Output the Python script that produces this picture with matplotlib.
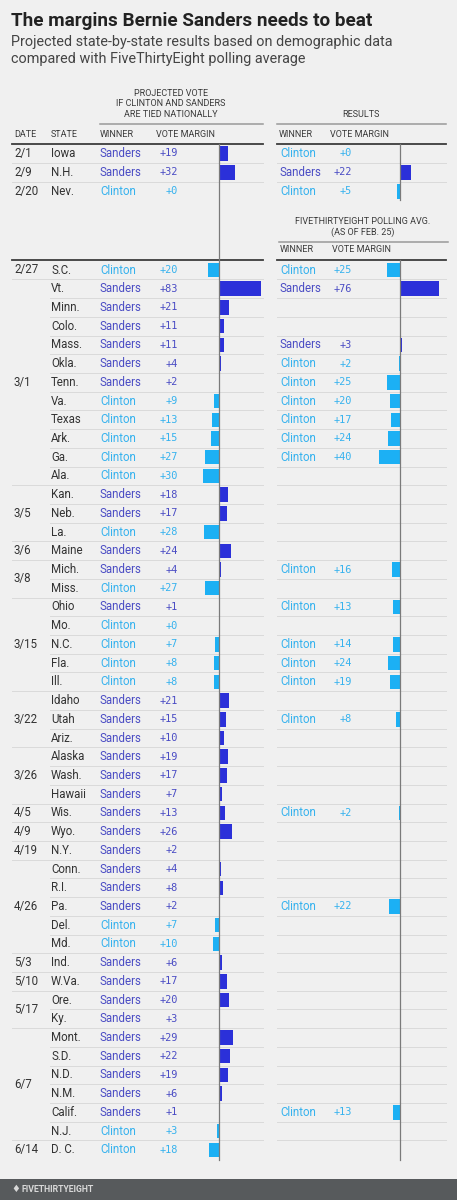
import matplotlib.pyplot as plt

# data
date_labels = ['2/1', '2/9', '2/20', '2/27', '3/1', '3/5', '3/6', '3/8', '3/15', '3/22',
               '3/26', '4/5', '4/9', '4/19', '4/26', '5/3', '5/10', '5/17', '6/7', '6/14']
group_sizes = [1, 1, 1, 1, 11, 3, 1, 2, 5, 3, 3, 1, 1, 1, 5, 1, 1, 2, 6, 1]

states = ['Iowa', 'N.H.', 'Nev.', 'S.C.', 'Vt.', 'Minn.', 'Colo.', 'Mass.', 'Okla.', 'Tenn.',
          'Va.', 'Texas', 'Ark.', 'Ga.', 'Ala.', 'Kan.', 'Neb.', 'La.', 'Maine', 'Mich.',
          'Miss.', 'Ohio', 'Mo.', 'N.C.', 'Fla.', 'Ill.', 'Idaho', 'Utah', 'Ariz.', 'Alaska',
          'Wash.', 'Hawaii', 'Wis.', 'Wyo.', 'N.Y.', 'Conn.', 'R.I.', 'Pa.', 'Del.', 'Md.',
          'Ind.', 'W.Va.', 'Ore.', 'Ky.', 'Mont.', 'S.D.', 'N.D.', 'N.M.', 'Calif.', 'N.J.', 'D. C.']

S, C = 'Sanders', 'Clinton'
proj_winner = [S, S, C, C, S, S, S, S, S, S,
               C, C, C, C, C, S, S, C, S, S,
               C, S, C, C, C, C, S, S, S, S,
               S, S, S, S, S, S, S, S, C, C,
               S, S, S, S, S, S, S, S, S, C, C]
proj_margin = [19, 32, 0, 20, 83, 21, 11, 11, 4, 2,
               9, 13, 15, 27, 30, 18, 17, 28, 24, 4,
               27, 1, 0, 7, 8, 8, 21, 15, 10, 19,
               17, 7, 13, 26, 2, 4, 8, 2, 7, 10,
               6, 17, 20, 3, 29, 22, 19, 6, 1, 3, 18]

# results (first 3 rows) and 538 polling avg (rest); None = no data
right_winner = [C, S, C, C, S, None, None, S, C, C,
                C, C, C, C, None, None, None, None, None, C,
                None, C, None, C, C, C, None, C, None, None,
                None, None, C, None, None, None, None, C, None, None,
                None, None, None, None, None, None, None, None, C, None, None]
right_margin = [0, 22, 5, 25, 76, None, None, 3, 2, 25,
                20, 17, 24, 40, None, None, None, None, None, 16,
                None, 13, None, 14, 24, 19, None, 8, None, None,
                None, None, 2, None, None, None, None, 22, None, None,
                None, None, None, None, None, None, None, None, 13, None, None]

BG = '#f0f0f0'
TXT = '#333333'
HEAD = '#3a3a3a'
SAND_BAR, SAND_TXT = '#2b30d9', '#4a4cc4'
CLIN_BAR, CLIN_TXT = '#1cb0f4', '#36b2ee'
SANS = ['Roboto', 'DejaVu Sans']
MONO = ['DejaVu Sans Mono']

W, H = 457, 1200
fig = plt.figure(figsize=(W / 100, H / 100), dpi=100, facecolor=BG)
ax = fig.add_axes([0, 0, 1, 1])
ax.set_xlim(0, W)
ax.set_ylim(H, 0)
ax.axis('off')

# row positions (pixels)
pitch = 18.72
row_y = [153.5 + i * 18.9 for i in range(3)] + [270 + i * pitch for i in range(len(states) - 3)]

# title
ax.text(11, 21, 'The margins Bernie Sanders needs to beat', fontsize=13.6, fontweight='bold',
        color='#222222', va='center', family=SANS)
ax.text(11, 42, 'Projected state-by-state results based on demographic data', fontsize=10.4,
        color='#444444', va='center', family=SANS)
ax.text(11, 59, 'compared with FiveThirtyEight polling average', fontsize=10.4,
        color='#444444', va='center', family=SANS)

hs = 6.5
for yy, t in zip([93, 104, 114.5], ['PROJECTED VOTE', 'IF CLINTON AND SANDERS', 'ARE TIED NATIONALLY']):
    ax.text(171, yy, t, fontsize=hs, ha='center', va='center', color=HEAD, family=SANS)
ax.text(361, 114.5, 'RESULTS', fontsize=hs, ha='center', va='center', color=HEAD, family=SANS)
ax.text(363, 221, 'FIVETHIRTYEIGHT POLLING AVG.', fontsize=hs, ha='center', va='center', color=HEAD, family=SANS)
ax.text(363, 232, '(AS OF FEB. 25)', fontsize=hs, ha='center', va='center', color=HEAD, family=SANS)

for x, t in [(14, 'DATE'), (51, 'STATE'), (100, 'WINNER'), (156, 'VOTE MARGIN'),
             (279, 'WINNER'), (330, 'VOTE MARGIN')]:
    ax.text(x, 134.5, t, fontsize=hs, va='center', color=HEAD, family=SANS)
for x, t in [(280, 'WINNER'), (332, 'VOTE MARGIN')]:
    ax.text(x, 250, t, fontsize=hs, va='center', color=HEAD, family=SANS)

# header rules
ax.plot([100, 263], [124, 124], color='#999999', lw=1.1)
ax.plot([277, 446], [124, 124], color='#999999', lw=1.1)
ax.plot([279, 448], [241.5, 241.5], color='#999999', lw=1.1)
for yy in [144, 260]:
    ax.plot([12, 263], [yy, yy], color='#3c3c3c', lw=1.3)
    ax.plot([277, 446], [yy, yy], color='#3c3c3c', lw=1.3)

# row separators
group_end = []
n = 0
for g in group_sizes:
    n += g
    group_end.append(n - 1)
for i in range(len(states) - 1):
    if i == 2:
        continue
    yy = (row_y[i] + row_y[i + 1]) / 2 if i > 2 else row_y[i] + 9.45
    x0 = 12 if i in group_end else 50
    ax.plot([x0, 263], [yy, yy], color='#dadada', lw=0.7)
    ax.plot([277, 446], [yy, yy], color='#dadada', lw=0.7)

# date labels, centred on their group
start = 0
for lab, g in zip(date_labels, group_sizes):
    yy = (row_y[start] + row_y[start + g - 1]) / 2
    ax.text(14, yy, lab, fontsize=8.3, va='center', color=TXT, family=SANS)
    start += g

# table text
for i, st in enumerate(states):
    yy = row_y[i]
    ax.text(51, yy, st, fontsize=8.3, va='center', color=TXT, family=SANS)
    w = proj_winner[i]
    col = SAND_TXT if w == S else CLIN_TXT
    ax.text(100, yy, w, fontsize=8.3, va='center', color=col, family=SANS)
    ax.text(178, yy, '+%d' % proj_margin[i], fontsize=7.4, va='center', ha='right', color=col, family=MONO)
    if right_winner[i] is not None:
        w = right_winner[i]
        col = SAND_TXT if w == S else CLIN_TXT
        ax.text(280, yy, w, fontsize=8.3, va='center', color=col, family=SANS)
        ax.text(352, yy, '+%d' % right_margin[i], fontsize=7.4, va='center', ha='right', color=col, family=MONO)

# bars: own axes per panel, x in margin points
scale = 0.515  # px per point


def bar_axes(zero_px):
    b = fig.add_axes([0, 0, 1, 1])
    b.set_xlim(-zero_px / scale, (W - zero_px) / scale)
    b.set_ylim(H, 0)
    b.axis('off')
    b.patch.set_alpha(0)
    return b


axl = bar_axes(218.5)
vals = [m if w == S else -m for w, m in zip(proj_winner, proj_margin)]
cols = [SAND_BAR if w == S else CLIN_BAR for w in proj_winner]
axl.barh(row_y, vals, height=14.5, color=cols, lw=0)
axl.plot([0, 0], [144, 1160], color='#7a7a7a', lw=0.9)

axr = bar_axes(400)
ry, rv, rc = [], [], []
for i, (w, m) in enumerate(zip(right_winner, right_margin)):
    if w is None:
        continue
    ry.append(row_y[i])
    rv.append(m if w == S else -m)
    rc.append(SAND_BAR if w == S else CLIN_BAR)
axr.barh(ry, rv, height=14.5, color=rc, lw=0)
axr.plot([0, 0], [144, 200], color='#7a7a7a', lw=0.9)
axr.plot([0, 0], [260, 1160], color='#7a7a7a', lw=0.9)

# footer
ax.add_patch(plt.Rectangle((0, 1179), W, 21, color='#575a5c', lw=0))
ax.text(22, 1190, 'FIVETHIRTYEIGHT', fontsize=6.3, fontweight='bold', va='center',
        color='#d8d8d8', family=SANS)
ax.text(11.5, 1189.5, '\u2666', fontsize=7, va='center', color='#d8d8d8', family=['DejaVu Sans'])

fig.savefig('out.png', dpi=100, facecolor=BG)
